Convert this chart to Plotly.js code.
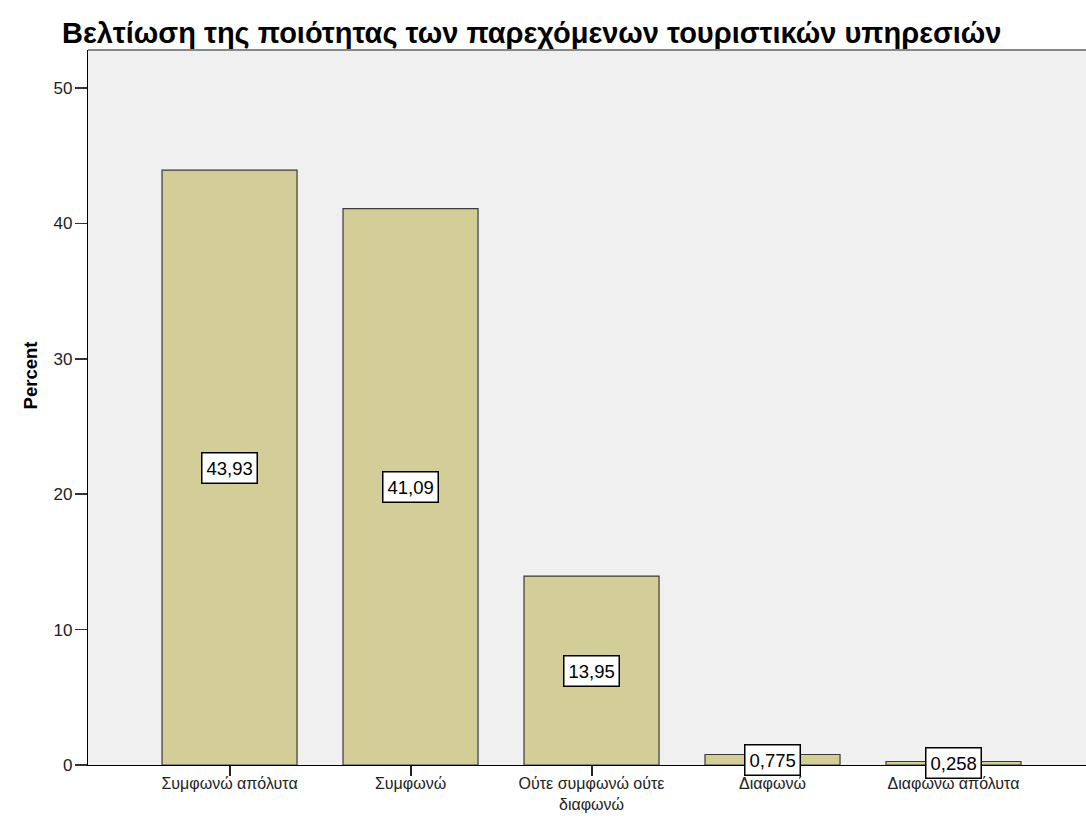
<!DOCTYPE html>
<html>
<head>
<meta charset="utf-8">
<script src="https://cdn.plot.ly/plotly-3.0.1.min.js"></script>
<style>html,body{margin:0;padding:0;background:#fff;}#chart{width:1086px;height:818px;}</style>
</head>
<body>
<div id="chart"></div>
<script>
var categories = ["Συμφωνώ απόλυτα", "Συμφωνώ", "Ούτε συμφωνώ ούτε<br>διαφωνώ", "Διαφωνώ", "Διαφωνώ απόλυτα"];
var percents = [43.93, 41.09, 13.95, 0.775, 0.258];
var labels = ["43,93", "41,09", "13,95", "0,775", "0,258"];
var yTicks = [0, 10, 20, 30, 40, 50];

var FONT = "Liberation Sans, Arial, sans-serif";

var trace = {
  type: "bar",
  x: [0, 1, 2, 3, 4],
  y: percents,
  width: 0.746,
  marker: {color: "#d3ce97", line: {color: "#3a3a3a", width: 1.2}},
  hoverinfo: "skip"
};

var annotations = percents.map(function (v, i) {
  return {
    x: i, y: v / 2, xref: "x", yref: "y",
    text: labels[i], showarrow: false,
    bgcolor: "#ffffff", bordercolor: "#000000", borderwidth: 1.5, borderpad: 4,
    font: {family: FONT, size: 18.5, color: "#000"}
  };
});
annotations.push({
  xref: "paper", yref: "paper", x: -0.058, y: 0.545, xanchor: "center", yanchor: "middle",
  text: "<b>Percent</b>", textangle: -90, showarrow: false,
  font: {family: FONT, size: 18.5, color: "#000"}
});

var layout = {
  width: 1086, height: 818,
  margin: {l: 88, r: 0, t: 50, b: 53, pad: 0},
  paper_bgcolor: "#ffffff",
  plot_bgcolor: "#f0f0f0",
  title: {
    text: "<b>Βελτίωση της ποιότητας των παρεχόμενων τουριστικών υπηρεσιών</b>",
    x: 62 / 1086, xanchor: "left", y: 1 - 33 / 818, yanchor: "middle",
    font: {family: FONT, size: 29, color: "#000"}
  },
  showlegend: false,
  bargap: 0,
  xaxis: {
    range: [-0.782, 4.732],
    tickmode: "array", tickvals: [0, 1, 2, 3, 4], ticktext: categories,
    ticks: "outside", ticklen: 10, tickwidth: 2, tickcolor: "#222",
    ticklabelstandoff: -6,
    showline: true, linecolor: "#000", linewidth: 1.2,
    showgrid: false, zeroline: false,
    tickfont: {family: FONT, size: 16, color: "#222"}
  },
  yaxis: {
    range: [0, 52.8],
    tickmode: "array", tickvals: yTicks,
    ticks: "outside", ticklen: 12, tickwidth: 1.5, tickcolor: "#333",
    ticklabelstandoff: -1,
    showline: true, linecolor: "#000", linewidth: 1.2,
    showgrid: false, zeroline: false,
    tickfont: {family: FONT, size: 17, color: "#222"}
  },
  shapes: [{
    type: "line", xref: "paper", yref: "paper", x0: 0, x1: 1, y0: 1, y1: 1,
    line: {color: "#888", width: 2}
  }],
  annotations: annotations
};

Plotly.newPlot("chart", [trace], layout, {displayModeBar: false, staticPlot: true});
</script>
</body>
</html>
